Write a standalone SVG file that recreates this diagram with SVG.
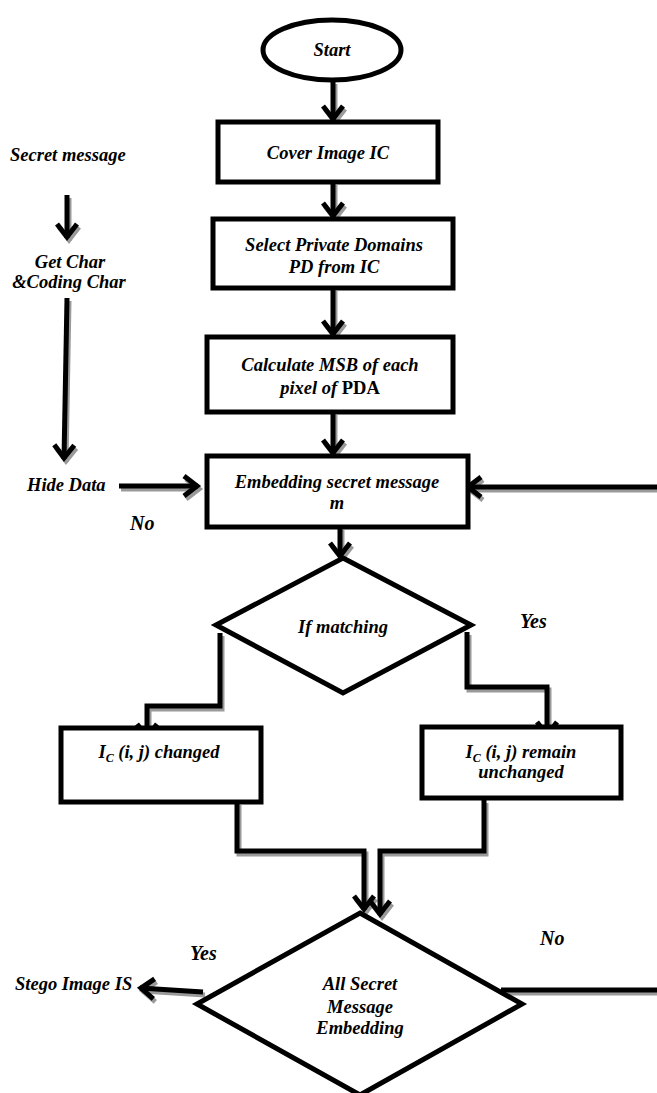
<svg xmlns="http://www.w3.org/2000/svg" xmlns:xlink="http://www.w3.org/1999/xlink" width="657" height="1093" viewBox="0 0 657 1093">
<style>
.shape{fill:#fff;stroke:#000;stroke-width:5}
text{font-family:"Liberation Serif","Times New Roman",serif;font-weight:bold;font-style:italic;font-size:18.5px;fill:#000}
.c{text-anchor:middle}
.lbl{font-size:20px}
.up{font-style:normal}
.sub{font-size:12px}
.conn{fill:none;stroke-width:5;stroke-linejoin:miter}
.shadow{stroke:#9a9a9a;marker-end:url(#ag)}
.main{stroke:#000;marker-end:url(#ab)}
.plain{marker-end:none}
</style>
<defs>
<marker id="ab" markerUnits="userSpaceOnUse" viewBox="-20 -15 26 30" refX="0" refY="0" markerWidth="26" markerHeight="30" orient="auto" overflow="visible">
<path d="M-14,-10 L-1,0 L-14,10" fill="none" stroke="#000" stroke-width="5"/>
</marker>
<marker id="ag" markerUnits="userSpaceOnUse" viewBox="-20 -15 26 30" refX="0" refY="0" markerWidth="26" markerHeight="30" orient="auto" overflow="visible">
<path d="M-14,-10 L-1,0 L-14,10" fill="none" stroke="#9a9a9a" stroke-width="5"/>
</marker>
<path id="e1" d="M333,81 V120"/>
<path id="e2" d="M333,182 V217"/>
<path id="e3" d="M333,288 V335"/>
<path id="e4" d="M333,412 V454"/>
<path id="e5" d="M340,527 V557"/>
<path id="e6" d="M220,633 V706 H147 V738"/>
<path id="e7" d="M467,632 V687 H547 V736"/>
<path id="e8" d="M237,802 V851 H364 V910"/>
<path id="e9" d="M484,800 V851 H380 V915"/>
<path id="e10" d="M657,487 H467"/>
<path id="e11" d="M119,486 H198"/>
<path id="e12" d="M67,195 V238"/>
<path id="e13" d="M67,298 L64,459"/>
<path id="e14" d="M203,992 L140,988"/>
<path id="e15" d="M501,990 H657"/>
</defs>

<g id="connectors" class="conn">
<g class="shadow" transform="translate(2,3)">
<use xlink:href="#e1"/><use xlink:href="#e2"/><use xlink:href="#e3"/><use xlink:href="#e4"/><use xlink:href="#e5"/><use xlink:href="#e6"/><use xlink:href="#e7"/><use xlink:href="#e8"/><use xlink:href="#e9"/><use xlink:href="#e10"/><use xlink:href="#e11"/><use xlink:href="#e12"/><use xlink:href="#e13"/><use xlink:href="#e14"/><use xlink:href="#e15" class="plain"/>
</g>
<g class="main">
<use xlink:href="#e1"/><use xlink:href="#e2"/><use xlink:href="#e3"/><use xlink:href="#e4"/><use xlink:href="#e5"/><use xlink:href="#e6"/><use xlink:href="#e7"/><use xlink:href="#e8"/><use xlink:href="#e9"/><use xlink:href="#e10"/><use xlink:href="#e11"/><use xlink:href="#e12"/><use xlink:href="#e13"/><use xlink:href="#e14"/><use xlink:href="#e15" class="plain"/>
</g>
</g>

<g id="start">
<ellipse class="shape" cx="332" cy="50" rx="69" ry="30"/>
<text class="c" x="332" y="56">Start</text>
</g>
<g id="cover">
<rect class="shape" x="218" y="122" width="220" height="60"/>
<text class="c" x="328" y="159">Cover Image IC</text>
</g>
<g id="select">
<rect class="shape" x="213" y="219" width="240" height="69"/>
<text class="c" x="334" y="251">Select Private Domains</text>
<text class="c" x="334" y="273">PD from IC</text>
</g>
<g id="calc">
<rect class="shape" x="207" y="337" width="246" height="75"/>
<text class="c" x="330" y="371">Calculate MSB of each</text>
<text class="c" x="330" y="394">pixel of <tspan class="up">PDA</tspan></text>
</g>
<g id="embed">
<rect class="shape" x="207" y="456" width="261" height="71"/>
<text class="c" x="337" y="488">Embedding secret message</text>
<text class="c" x="337" y="509">m</text>
</g>
<g id="match">
<polygon class="shape" points="343,558 471,625 343,693 216,625"/>
<text class="c" x="343" y="633">If matching</text>
</g>
<g id="changed">
<rect class="shape" x="61" y="728" width="200" height="74"/>
<text class="c" x="159" y="758">I<tspan class="sub" dy="4">C</tspan><tspan dy="-4"> (i, j) changed</tspan></text>
</g>
<g id="unchanged">
<rect class="shape" x="422" y="727" width="199" height="71"/>
<text class="c" x="521" y="758">I<tspan class="sub" dy="4">C</tspan><tspan dy="-4"> (i, j) remain</tspan></text>
<text class="c" x="521" y="778">unchanged</text>
</g>
<g id="all">
<polygon class="shape" points="360,913 522,1004 360,1095 197,1004"/>
<text class="c" x="360" y="990">All Secret</text>
<text class="c" x="360" y="1013">Message</text>
<text class="c" x="360" y="1034">Embedding</text>
</g>
<g id="secret"><text x="10" y="161">Secret message</text></g>
<g id="getchar">
<text class="c" x="70" y="268">Get Char</text>
<text class="c" x="69" y="288">&amp;Coding Char</text>
</g>
<g id="hide"><text x="27" y="491">Hide Data</text></g>
<g id="stego"><text x="15" y="990">Stego Image IS</text></g>
<g id="labels">
<text class="lbl" x="130" y="530">No</text>
<text class="lbl" x="520" y="628">Yes</text>
<text class="lbl" x="190" y="960">Yes</text>
<text class="lbl" x="540" y="945">No</text>
</g>
</svg>
